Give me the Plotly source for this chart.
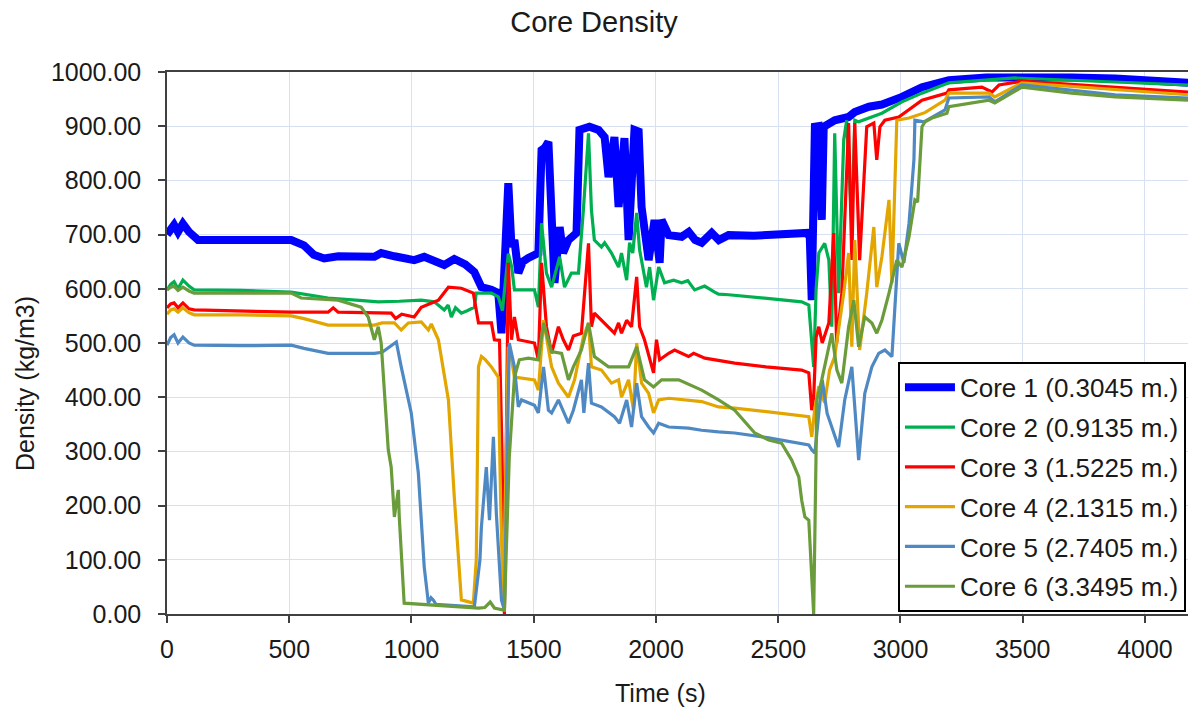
import plotly.graph_objects as go

# ---------------- data ----------------
names = ["Core 1 (0.3045 m.)", "Core 2 (0.9135 m.)", "Core 3 (1.5225 m.)",
         "Core 4 (2.1315 m.)", "Core 5 (2.7405 m.)", "Core 6 (3.3495 m.)"]
colors = ["#0000FF", "#00B050", "#FF0000", "#E3A600", "#4F89C4", "#6A9C3B"]
widths = [8, 3.2, 3.2, 3.2, 3.2, 3.2]

core1_t = [0, 15, 29, 45, 65, 90, 127, 300, 508, 560, 600, 643, 700, 848, 876, 930, 1011, 1052, 1100, 1134,
           1175, 1220, 1257, 1286, 1327, 1355, 1368, 1380, 1396, 1409, 1421, 1437, 1455, 1478, 1519, 1532, 1545,
           1560, 1573, 1585, 1606, 1620, 1642, 1675, 1687, 1728, 1765, 1790, 1806, 1830, 1847, 1871, 1888, 1912,
           1929, 1941, 1970, 1994, 2015, 2023, 2052, 2105, 2134, 2160, 2187, 2228, 2257, 2297, 2400, 2527, 2617,
           2629, 2637, 2650, 2665, 2678, 2686, 2731, 2788, 2813, 2871, 2924, 3006, 3088, 3198, 3350, 3469, 3700,
           3878, 4176]
core1_v = [700, 712, 718, 705, 720, 705, 690, 690, 690, 680, 663, 656, 660, 659, 666, 660, 653, 659, 650, 644,
           655, 645, 631, 603, 598, 592, 518, 650, 795, 677, 690, 629, 650, 657, 666, 856, 860,
           871, 714, 611, 714, 666, 690, 703, 893, 899, 893, 880, 806, 880, 751, 878, 690, 893,
           890, 751, 653, 727, 648, 727, 699, 696, 705, 690, 685, 703, 690, 699, 698, 699, 703,
           696, 579, 899, 900, 727, 899, 911, 917, 926, 936, 940, 954, 972, 985, 990, 991, 990,
           988, 980]

core2_t = [0, 15, 29, 45, 65, 90, 111, 300, 508, 600, 659, 800, 864, 950, 1040, 1093, 1134, 1150, 1163, 1180,
           1204, 1230, 1257, 1265, 1327, 1355, 1372, 1396, 1410, 1421, 1503, 1519, 1532, 1552, 1573, 1606, 1626,
           1654, 1683, 1703, 1724, 1736, 1748, 1777, 1790, 1818, 1847, 1859, 1880, 1892, 1905, 1921, 1933, 1961,
           1974, 1990, 2011, 2035, 2072, 2105, 2130, 2158, 2199, 2240, 2256, 2297, 2450, 2596, 2625, 2637, 2645,
           2655, 2666, 2690, 2707, 2719, 2731, 2747, 2768, 2780, 2801, 2813, 2829, 2924, 3006, 3088, 3198, 3469,
           3878, 4176]
core2_v = [598, 608, 613, 600, 616, 605, 598, 597, 594, 588, 583, 578, 576, 577, 579, 576, 561, 570, 548, 565,
           555, 560, 566, 592, 592, 585, 560, 665, 640, 598, 598, 566, 721, 629, 603, 659, 603,
           629, 629, 745, 887, 745, 690, 677, 685, 666, 640, 666, 616, 685, 666, 740, 672, 603,
           640, 579, 640, 611, 616, 611, 615, 598, 605, 594, 590, 589, 582, 576, 570, 500, 456,
           600, 666, 684, 653, 530, 887, 592, 875, 911, 714, 911, 908, 924, 945, 961, 980, 989,
           982, 976]

core3_t = [0, 15, 29, 45, 65, 90, 111, 300, 508, 659, 680, 700, 917, 935, 960, 1011, 1040, 1110, 1151, 1204,
           1253, 1274, 1327, 1339, 1360, 1370, 1380, 1396, 1409, 1421, 1437, 1503, 1519, 1532, 1552, 1573, 1601,
           1621, 1642, 1662, 1695, 1724, 1736, 1748, 1777, 1806, 1830, 1847, 1859, 1880, 1900, 1921, 1933, 1953,
           1990, 2002, 2015, 2052, 2076, 2133, 2154, 2200, 2240, 2322, 2450, 2596, 2625, 2637, 2645, 2655, 2666,
           2680, 2707, 2727, 2739, 2760, 2788, 2801, 2813, 2833, 2862, 2891, 2903, 2916, 2936, 2993, 3088, 3190,
           3198, 3333, 3374, 3403, 3497, 3878, 4176]
core3_v = [565, 572, 574, 565, 574, 563, 561, 559, 557, 557, 565, 557, 555, 545, 553, 548, 566, 579, 603, 601,
           592, 537, 537, 506, 505, 300, 0, 648, 506, 548, 506, 500, 469, 648, 530, 481, 530,
           506, 487, 513, 518, 684, 530, 555, 542, 530, 518, 537, 518, 542, 530, 622, 530, 506,
           445, 506, 469, 481, 487, 475, 481, 472, 469, 463, 456, 450, 445, 376, 400, 511, 530,
           500, 537, 703, 500, 592, 906, 653, 906, 653, 899, 906, 838, 899, 911, 917, 948, 961,
           967, 972, 963, 976, 983, 972, 963]

core4_t = [0, 15, 29, 45, 65, 90, 111, 300, 508, 560, 659, 848, 880, 930, 958, 987, 1040, 1069, 1081, 1110,
           1151, 1175, 1204, 1253, 1265, 1274, 1286, 1300, 1327, 1355, 1365, 1375, 1396, 1409, 1421, 1503, 1519,
           1540, 1573, 1601, 1642, 1667, 1703, 1724, 1736, 1777, 1818, 1847, 1859, 1888, 1908, 1921, 1941, 1970,
           1990, 2011, 2052, 2133, 2187, 2256, 2322, 2461, 2625, 2637, 2650, 2666, 2690, 2710, 2731, 2768, 2788,
           2801, 2813, 2833, 2862, 2891, 2903, 2924, 2953, 2965, 2985, 3035, 3100, 3182, 3198, 3362, 3386, 3497,
           3878, 4176]
core4_v = [553, 561, 563, 557, 565, 556, 552, 552, 550, 545, 533, 533, 537, 537, 524, 537, 539, 524, 535, 506,
           395, 216, 26, 20, 100, 456, 475, 470, 456, 437, 200, 20, 493, 470, 437, 432, 413,
           542, 456, 426, 400, 432, 511, 537, 456, 450, 426, 432, 400, 432, 376, 500, 426, 407,
           371, 395, 398, 395, 392, 382, 380, 373, 364, 327, 380, 420, 390, 450, 475, 592, 666,
           493, 690, 487, 592, 714, 603, 659, 764, 611, 911, 915, 925, 948, 961, 961, 954, 980,
           967, 958]

core5_t = [0, 15, 29, 45, 65, 90, 111, 300, 508, 560, 659, 848, 880, 917, 938, 958, 987, 999, 1028, 1052,
           1069, 1080, 1089, 1100, 1257, 1280, 1286, 1306, 1319, 1335, 1347, 1368, 1380, 1400, 1421, 1437, 1450,
           1503, 1519, 1540, 1560, 1573, 1601, 1642, 1662, 1695, 1705, 1724, 1736, 1777, 1830, 1851, 1880, 1900,
           1921, 1941, 1970, 1990, 2011, 2052, 2133, 2187, 2256, 2322, 2461, 2625, 2637, 2650, 2666, 2680, 2700,
           2747, 2772, 2801, 2829, 2854, 2883, 2911, 2936, 2965, 2993, 3014, 3035, 3055, 3059, 3096, 3182, 3198,
           3362, 3386, 3497, 3878, 4176]
core5_v = [496, 510, 515, 500, 511, 500, 496, 495, 496, 490, 481, 481, 483, 496, 502, 456, 395, 371, 260, 87,
           20, 30, 26, 18, 13, 100, 161, 271, 173, 327, 186, 26, 7, 500, 456, 382, 395,
           385, 371, 456, 376, 371, 395, 352, 376, 432, 371, 463, 389, 382, 364, 352, 395, 345,
           426, 364, 345, 334, 352, 345, 343, 339, 336, 334, 325, 312, 303, 297, 371, 432, 370,
           308, 395, 456, 284, 407, 456, 481, 487, 475, 684, 648, 721, 838, 911, 908, 930, 952,
           954, 945, 976, 958, 952]

core6_t = [0, 15, 29, 45, 65, 90, 111, 300, 508, 549, 700, 794, 823, 848, 864, 876, 905, 917, 930, 946,
           950, 970, 1069, 1200, 1274, 1300, 1322, 1339, 1380, 1400, 1421, 1441, 1478, 1519, 1540, 1573, 1614,
           1642, 1662, 1695, 1724, 1748, 1806, 1888, 1921, 1953, 1990, 2023, 2093, 2187, 2256, 2322, 2404, 2461,
           2514, 2555, 2584, 2596, 2609, 2625, 2645, 2658, 2678, 2719, 2740, 2760, 2788, 2809, 2829, 2854, 2883,
           2903, 2924, 2953, 2985, 3006, 3035, 3059, 3070, 3088, 3100, 3129, 3190, 3198, 3362, 3386, 3497, 3700,
           3878, 4176]
core6_v = [598, 603, 605, 597, 603, 596, 592, 592, 592, 583, 579, 566, 548, 506, 530, 500, 303, 271, 179, 229,
           179, 20, 17, 13, 11, 12, 22, 11, 7, 290, 437, 469, 472, 469, 537, 484, 481,
           432, 456, 487, 537, 475, 456, 456, 493, 432, 419, 432, 432, 413, 395, 376, 334, 321,
           315, 284, 253, 210, 179, 173, 0, 395, 432, 518, 450, 426, 530, 579, 493, 548, 537,
           518, 542, 592, 653, 640, 696, 764, 760, 899, 908, 915, 924, 936, 948, 943, 972, 961,
           954, 948]

times = [core1_t, core2_t, core3_t, core4_t, core5_t, core6_t]
values = [core1_v, core2_v, core3_v, core4_v, core5_v, core6_v]

x_ticks = [0, 500, 1000, 1500, 2000, 2500, 3000, 3500, 4000]
y_ticks = [0, 100, 200, 300, 400, 500, 600, 700, 800, 900, 1000]

FONT = "Arial, 'Liberation Sans', sans-serif"
GRID = "#D8E1F2"
AXIS = "#404040"

fig = go.Figure()
for i in range(6):
    fig.add_trace(go.Scatter(
        x=times[i], y=values[i], mode="lines", name=names[i],
        legendgroup=f"g{i}",
        line=dict(color=colors[i], width=widths[i]),
    ))

fig.update_layout(
    width=1188, height=717,
    margin=dict(l=167, r=0, t=72, b=103),
    paper_bgcolor="white", plot_bgcolor="white",
    font=dict(family=FONT, color="#1a1a1a", size=25),
    title=dict(text="Core Density", x=0.5, xanchor="center", xref="container",
               y=1 - 22 / 717, yref="container", yanchor="middle",
               font=dict(size=29, family=FONT, color="#1a1a1a")),
    showlegend=True,
    legend=dict(x=0.998, xanchor="right", y=0.004, yanchor="bottom",
                bgcolor="white", bordercolor="black", borderwidth=2,
                font=dict(size=26, family=FONT, color="#1a1a1a"),
                tracegroupgap=3, itemwidth=50),
    xaxis=dict(range=[0, 4176], tickvals=x_ticks, ticktext=[str(v) for v in x_ticks],
               showgrid=True, gridcolor=GRID, gridwidth=1.3,
               showline=True, linecolor=AXIS, linewidth=1.5, mirror=True,
               ticks="outside", ticklen=7, tickcolor=AXIS, tickwidth=1.5,
               zeroline=False, tickfont=dict(size=25), ticklabelstandoff=5),
    yaxis=dict(range=[0, 1000], tickvals=y_ticks, tickformat=".2f",
               showgrid=True, gridcolor=GRID, gridwidth=1.3,
               showline=True, linecolor=AXIS, linewidth=1.5, mirror=False,
               ticks="outside", ticklen=7, tickcolor=AXIS, tickwidth=1.5,
               zeroline=False, tickfont=dict(size=25), ticklabelstandoff=12),
    annotations=[
        dict(text="Time (s)", xref="paper", yref="paper", x=(660 - 167) / 1021, y=-(693 - 614) / 542,
             xanchor="center", yanchor="middle", showarrow=False, font=dict(size=25, family=FONT)),
        dict(text="Density (kg/m3)", xref="paper", yref="paper", x=-(167 - 25) / 1021,
             y=(614 - 384) / 542, xanchor="center", yanchor="middle", textangle=-90,
             showarrow=False, font=dict(size=25, family=FONT)),
    ],
)

fig.write_html("out.html")
